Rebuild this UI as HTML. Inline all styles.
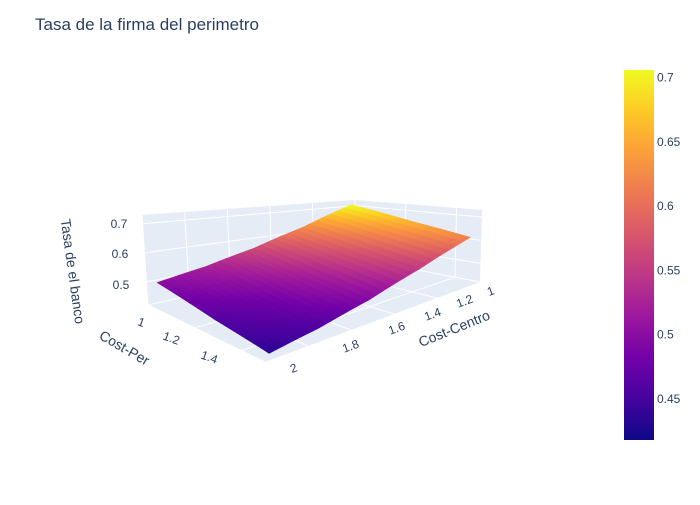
<!DOCTYPE html>
<html><head><meta charset="utf-8"><style>
body{margin:0;background:#fff;font-family:"Liberation Sans",sans-serif}
svg text{font-family:"Liberation Sans",sans-serif;fill:#2a3f5f}
</style></head><body>
<svg id="chart" width="700" height="500" viewBox="0 0 700 500" xmlns="http://www.w3.org/2000/svg">
<rect width="700" height="500" fill="#fff"/>
<text x="35" y="30" font-size="17">Tasa de la firma del perimetro</text>
<g id="scene"></g>
<defs><linearGradient id="cb" x1="0" y1="1" x2="0" y2="0">
<stop offset="0" stop-color="#0d0887"/><stop offset="0.111" stop-color="#46039f"/><stop offset="0.222" stop-color="#7201a8"/><stop offset="0.333" stop-color="#9c179e"/><stop offset="0.444" stop-color="#bd3786"/><stop offset="0.556" stop-color="#d8576b"/><stop offset="0.667" stop-color="#ed7953"/><stop offset="0.778" stop-color="#fb9f3a"/><stop offset="0.889" stop-color="#fdca26"/><stop offset="1" stop-color="#f0f921"/></linearGradient></defs>
<rect x="624" y="70" width="30" height="370" fill="url(#cb)"/>
<g id="cbticks"></g>
<text transform="translate(68,272) rotate(82)" text-anchor="middle" font-size="14">Tasa de el banco</text>
<text transform="translate(122,352) rotate(30)" text-anchor="middle" font-size="14">Cost-Per</text>
<text transform="translate(456,333) rotate(-22)" text-anchor="middle" font-size="14">Cost-Centro</text>
</svg>
<script>
const perVals=[1,1.25,1.5];
const centroVals=[1,1.25,1.5,1.75,2];
const zRowPer1=[0.71,0.625,0.565,0.525,0.50];
const zRowPer125=[0.66,0.585,0.525,0.485,0.462];
const zRowPer15=[0.62,0.55,0.495,0.458,0.435];
const perTicks=["1","1.2","1.4"];
const centroTicks=["2","1.8","1.6","1.4","1.2","1"];
const zTicks=["0.7","0.6","0.5"];
const cbTicks=[0.45,0.5,0.55,0.6,0.65,0.7];
const zRows=[zRowPer1,zRowPer125,zRowPer15];
const NS="http://www.w3.org/2000/svg";
const scene=document.getElementById('scene');
const zmin=0.42,zmax=0.73,cmin=0.418,cmax=0.706;
const B={a:[355,258],b:[480,282],c:[148,305],d:[265,362]};
const T={a:[355,200],b:[482,210],c:[142,215],d:[265,252]};
function bl(C,u,v){return [C.a[0]*(1-u)*(1-v)+C.b[0]*u*(1-v)+C.c[0]*(1-u)*v+C.d[0]*u*v,
 C.a[1]*(1-u)*(1-v)+C.b[1]*u*(1-v)+C.c[1]*(1-u)*v+C.d[1]*u*v];}
function P(per,cen,z){const u=(per-1)/0.5,v=(cen-1)/1,w=(z-zmin)/(zmax-zmin);
 const b=bl(B,u,v),t=bl(T,u,v);return [b[0]+(t[0]-b[0])*w,b[1]+(t[1]-b[1])*w];}
// surface drawn slightly inset (data range within padded axis range)
function PS(per,cen,z){return P(1.02+(per-1)*0.94,1.04+(cen-1)*0.93,z);}
function el(tag,attrs){const e=document.createElementNS(NS,tag);for(const k in attrs)e.setAttribute(k,attrs[k]);return e;}
function poly(pts,fill,stroke,name){const e=el('polygon',{points:pts.map(p=>p.join(',')).join(' '),fill:fill,stroke:stroke,'stroke-width':stroke==='none'?0:0.8,'stroke-linejoin':'round'});
 
 
 scene.appendChild(e);return e;}
function line(p,q,name){const e=el('line',{x1:p[0],y1:p[1],x2:q[0],y2:q[1],stroke:'#fff','stroke-width':1});
 
 
 scene.appendChild(e);}
poly([P(1,1,zmin),P(1.5,1,zmin),P(1.5,2,zmin),P(1,2,zmin)],'#e5ecf6','none','floor');
poly([P(1,1,zmin),P(1,2,zmin),P(1,2,zmax),P(1,1,zmax)],'#e5ecf6','none','wall-per');
poly([P(1,1,zmin),P(1.5,1,zmin),P(1.5,1,zmax),P(1,1,zmax)],'#e5ecf6','none','wall-centro');
[1,1.2,1.4].forEach(p=>{line(P(p,1,zmin),P(p,2,zmin),'grid-per');line(P(p,1,zmin),P(p,1,zmax),'grid-per-wall');});
[1,1.2,1.4,1.6,1.8,2].forEach(c=>{line(P(1,c,zmin),P(1.5,c,zmin),'grid-centro');line(P(1,c,zmin),P(1,c,zmax),'grid-centro-wall');});
[0.5,0.6,0.7].forEach(z=>{line(P(1,1,z),P(1,2,z),'grid-z');line(P(1,1,z),P(1.5,1,z),'grid-z');});
const stops=['#0d0887','#46039f','#7201a8','#9c179e','#bd3786','#d8576b','#ed7953','#fb9f3a','#fdca26','#f0f921'].map(h=>[1,3,5].map(i=>parseInt(h.substr(i,2),16)));
function col(z){let t=Math.max(0,Math.min(1,(z-cmin)/(cmax-cmin)))*(stops.length-1);const i=Math.min(stops.length-2,Math.floor(t)),f=t-i;
 const c=stops[i].map((a,k)=>Math.round(a+(stops[i+1][k]-a)*f));return `rgb(${c.join(',')})`;}
function zAt(per,cen){
 const fi=(per-perVals[0])/(perVals[1]-perVals[0]),fj=(cen-centroVals[0])/(centroVals[1]-centroVals[0]);
 const i=Math.min(perVals.length-2,Math.floor(fi)),j=Math.min(centroVals.length-2,Math.floor(fj));
 const a=fi-i,b=fj-j;
 return zRows[i][j]*(1-a)*(1-b)+zRows[i+1][j]*a*(1-b)+zRows[i][j+1]*(1-a)*b+zRows[i+1][j+1]*a*b;}
const N=28,cells=[];
const p0=perVals[0],p1=perVals[perVals.length-1],c0=centroVals[0],c1=centroVals[centroVals.length-1];
for(let i=0;i<N;i++)for(let j=0;j<N;j++)cells.push([i,j]);
cells.sort((x,y)=>(x[0]+x[1])-(y[0]+y[1]));
cells.forEach(([i,j])=>{
 const pa=p0+(p1-p0)*i/N,pb=p0+(p1-p0)*(i+1)/N,ca=c0+(c1-c0)*j/N,cb=c0+(c1-c0)*(j+1)/N;
 const zs=[zAt(pa,ca),zAt(pb,ca),zAt(pb,cb),zAt(pa,cb)];
 const c=col((zs[0]+zs[1]+zs[2]+zs[3])/4);
 poly([PS(pa,ca,zs[0]),PS(pb,ca,zs[1]),PS(pb,cb,zs[2]),PS(pa,cb,zs[3])],c,c,'surface-cell');
});
function txt(parent,x,y,s,name,anchor,rot){const e=el('text',{x:x,y:y,'font-size':12,'text-anchor':anchor||'start'});
 if(rot)e.setAttribute('transform',`rotate(${rot},${x},${y})`);
 e.textContent=s;
 
 
 parent.appendChild(e);}
const perPos=[[140,326],[170,342],[208,361]];
perTicks.forEach((t,k)=>txt(scene,perPos[k][0],perPos[k][1],t,'x-tick-label','middle',20));
const cenPos=[[295,372],[352,350],[398,332],[434,318],[466,305],[492,295]];
centroTicks.forEach((t,k)=>txt(scene,cenPos[k][0],cenPos[k][1],t,'y-tick-label','middle',-20));
const zPos=[[119,228],[120,258],[121,289]];
zTicks.forEach((t,k)=>txt(scene,zPos[k][0],zPos[k][1],t,'z-tick-label','middle'));
const cbg=document.getElementById('cbticks');
cbTicks.forEach(v=>{const y=440-(v-cmin)/(cmax-cmin)*370;txt(cbg,657,y+4,String(v),'colorbar-tick-label');});
</script>
</body></html>
